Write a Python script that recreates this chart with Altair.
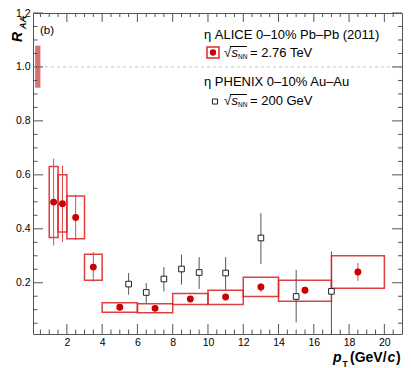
import altair as alt
import pandas as pd

# ---------------- data ----------------
alice_x = [1.25, 1.75, 2.5, 3.5, 5, 7, 9, 11, 13, 15.5, 18.5]
alice_xlo = [1.0, 1.5, 2, 3, 4, 6, 8, 10, 12, 14, 17]
alice_xhi = [1.5, 2, 3, 4, 6, 8, 10, 12, 14, 17, 20]
alice_y = [0.499, 0.493, 0.442, 0.258, 0.109, 0.105, 0.140, 0.147, 0.184, 0.172, 0.240]
alice_sys_lo = [0.368, 0.388, 0.363, 0.209, 0.091, 0.089, 0.119, 0.119, 0.149, 0.131, 0.180]
alice_sys_hi = [0.631, 0.600, 0.522, 0.306, 0.126, 0.122, 0.160, 0.172, 0.220, 0.209, 0.300]
alice_stat_lo = [0.338, 0.351, 0.359, 0.203, 0.100, 0.097, 0.132, 0.135, 0.166, 0.160, 0.207]
alice_stat_hi = [0.660, 0.634, 0.526, 0.314, 0.118, 0.113, 0.148, 0.159, 0.199, 0.185, 0.273]

phenix_x = [5.5, 6.5, 7.5, 8.5, 9.5, 11, 13, 15, 17]
phenix_y = [0.195, 0.164, 0.214, 0.251, 0.238, 0.236, 0.366, 0.149, 0.168]
phenix_lo = [0.156, 0.125, 0.168, 0.193, 0.177, 0.174, 0.270, 0.053, 0.0]
phenix_hi = [0.236, 0.199, 0.258, 0.304, 0.295, 0.295, 0.458, 0.248, 0.316]

norm_x = [0.2, 0.5]
norm_y = [0.923, 1.079]
unity = [1.0]

x_major = [2, 4, 6, 8, 10, 12, 14, 16, 18, 20]
x_minor = [0.5, 1, 1.5, 2.5, 3, 3.5, 4.5, 5, 5.5, 6.5, 7, 7.5, 8.5, 9, 9.5,
           10.5, 11, 11.5, 12.5, 13, 13.5, 14.5, 15, 15.5, 16.5, 17, 17.5,
           18.5, 19, 19.5, 20.5]
y_major = [0.2, 0.4, 0.6, 0.8, 1.0, 1.2]
y_minor = [0.05, 0.1, 0.15, 0.25, 0.3, 0.35, 0.45, 0.5, 0.55, 0.65, 0.7, 0.75,
           0.85, 0.9, 0.95, 1.05, 1.1, 1.15]

alice = pd.DataFrame({"x": alice_x, "xlo": alice_xlo, "xhi": alice_xhi, "y": alice_y,
                      "slo": alice_sys_lo, "shi": alice_sys_hi,
                      "elo": alice_stat_lo, "ehi": alice_stat_hi})
phenix = pd.DataFrame({"x": phenix_x, "y": phenix_y, "lo": phenix_lo, "hi": phenix_hi})
norm = pd.DataFrame({"x0": [norm_x[0]], "x1": [norm_x[1]], "y0": [norm_y[0]], "y1": [norm_y[1]]})
unity_df = pd.DataFrame({"y": unity})

FONT = "Liberation Sans"
RED = "#cc0000"
BOXRED = "#dd2a2a"
TICK = "#555555"
W, H = 369, 321
xs = alt.Scale(domain=[0.08, 21], nice=False, zero=False)
ys = alt.Scale(domain=[0.01, 1.2], nice=False, zero=False)

OX, OY = 33, 13  # plot origin on page

x_axis = alt.Axis(orient="bottom", values=x_major, tickSize=0, tickOpacity=0, domain=False, grid=False,
                  title=None, labelFont=FONT, labelFontSize=10.5, labelColor="black",
                  labelPadding=3, labelFlush=False, labelOverlap=False)
y_axis = alt.Axis(orient="left", values=y_major, tickSize=0, tickOpacity=0, domain=False, grid=False,
                  title=None, labelFont=FONT, labelFontSize=10.5, labelColor="black",
                  labelPadding=3, labelFlush=False, labelOverlap=False, format=".1f")

# normalisation box
norm_layer = alt.Chart(norm).mark_rect(fill="#d46a6a", opacity=0.95).encode(
    x=alt.X("x0:Q", scale=xs, axis=x_axis), x2="x1:Q",
    y=alt.Y("y0:Q", scale=ys, axis=y_axis), y2="y1:Q")

unity_layer = alt.Chart(unity_df).mark_rule(color="#c8c8c8", strokeDash=[3, 3], strokeWidth=1).encode(
    y=alt.Y("y:Q", scale=ys, axis=None))


# inward ticks on all four sides
def xticks(vals, length, top):
    y0, y1 = (0, length) if top else (H, H - length)
    return alt.Chart(pd.DataFrame({"v": vals})).mark_rule(color=TICK, strokeWidth=1).encode(
        x=alt.X("v:Q", scale=xs, axis=None), y=alt.value(y0), y2=alt.value(y1))


def yticks(vals, length, right):
    x0, x1 = (W, W - length) if right else (0, length)
    return alt.Chart(pd.DataFrame({"v": vals})).mark_rule(color=TICK, strokeWidth=1).encode(
        y=alt.Y("v:Q", scale=ys, axis=None), x=alt.value(x0), x2=alt.value(x1))


tick_layers = [
    xticks(x_major, 10, False), xticks(x_minor, 4.5, False),
    xticks(x_major, 9, True), xticks(x_minor, 4, True),
    yticks(y_major, 10, False), yticks(y_minor, 4.5, False),
    yticks(y_major, 10, True), yticks(y_minor, 4, True),
]

box_layer = alt.Chart(alice).mark_rect(fillOpacity=0, stroke=BOXRED, strokeWidth=1.5, strokeOpacity=0.9).encode(
    x=alt.X("xlo:Q", scale=xs, axis=None), x2="xhi:Q",
    y=alt.Y("slo:Q", scale=ys, axis=None), y2="shi:Q")

alice_err = alt.Chart(alice).mark_rule(color="#e04848", strokeWidth=1).encode(
    x=alt.X("x:Q", scale=xs, axis=None),
    y=alt.Y("elo:Q", scale=ys, axis=None), y2="ehi:Q")

phenix_err = alt.Chart(phenix).mark_rule(color="#555555", strokeWidth=1, clip=True).encode(
    x=alt.X("x:Q", scale=xs, axis=None),
    y=alt.Y("lo:Q", scale=ys, axis=None), y2="hi:Q")

phenix_pts = alt.Chart(phenix).mark_point(shape="square", filled=False, fill="white", fillOpacity=1,
                                          stroke="#222222", strokeWidth=1, size=32, opacity=1).encode(
    x=alt.X("x:Q", scale=xs, axis=None),
    y=alt.Y("y:Q", scale=ys, axis=None))

alice_pts = alt.Chart(alice).mark_circle(color=RED, size=48, opacity=1).encode(
    x=alt.X("x:Q", scale=xs, axis=None),
    y=alt.Y("y:Q", scale=ys, axis=None))


def txt(s, px, py, size=13, weight="normal", style="normal", align="left", angle=0):
    return alt.Chart(pd.DataFrame({"label": [s]})).mark_text(
        font=FONT, fontSize=size, fontWeight=weight, fontStyle=style, align=align,
        baseline="alphabetic", angle=angle, color="black").encode(
        x=alt.value(px - OX), y=alt.value(py - OY), text="label:N")


def hline(x0, x1, py, color="black", width=1):
    return alt.Chart(pd.DataFrame({"label": ["l"]})).mark_rule(color=color, strokeWidth=width).encode(
        x=alt.value(x0 - OX), x2=alt.value(x1 - OX), y=alt.value(py - OY))


texts = [
    txt("(b)", 40, 34, size=11.5),
    txt("R", 22, 42, size=14, weight="bold", style="italic", angle=270),
    txt("AA", 26, 29, size=9, weight="bold", style="italic", angle=270),
    txt("\u03b7 ALICE 0\u201310% Pb\u2013Pb (2011)", 204, 39, size=13),
    txt("\u221a", 224, 57, size=13),
    txt("s", 231.5, 57, size=13, style="italic"),
    txt("NN", 238, 59, size=6.5),
    txt("= 2.76 TeV", 250, 57, size=13),
    txt("\u03b7 PHENIX 0\u201310% Au\u2013Au", 204, 86, size=13),
    txt("\u221a", 224, 105, size=13),
    txt("s", 231.5, 105, size=13, style="italic"),
    txt("NN", 238, 107, size=6.5),
    txt("= 200 GeV", 250, 105, size=13),
    hline(230, 247, 46.5),
    hline(230, 247, 94.5),
    txt("p", 333, 362, size=14, weight="bold", style="italic"),
    txt("T", 342.5, 367, size=8.5, weight="bold"),
    txt("(GeV/", 350, 362, size=14, weight="bold"),
    txt("c", 387.5, 362, size=14, weight="bold", style="italic"),
    txt(")", 396, 362, size=14, weight="bold"),
]

legend_box = alt.Chart(pd.DataFrame({"label": ["b"]})).mark_rect(
    fillOpacity=0, stroke=BOXRED, strokeWidth=1.5).encode(
    x=alt.value(207 - OX), x2=alt.value(219 - OX), y=alt.value(47 - OY), y2=alt.value(58 - OY))
legend_dot = alt.Chart(pd.DataFrame({"label": ["d"]})).mark_circle(color=RED, size=40, opacity=1).encode(
    x=alt.value(213 - OX), y=alt.value(52.5 - OY))
legend_sq = alt.Chart(pd.DataFrame({"label": ["s"]})).mark_point(
    shape="square", filled=False, fill="white", fillOpacity=1, stroke="#222222", strokeWidth=1,
    size=26, opacity=1).encode(x=alt.value(215 - OX), y=alt.value(101.5 - OY))

chart = alt.layer(
    norm_layer, unity_layer, *tick_layers, box_layer, alice_err, phenix_err, phenix_pts, alice_pts,
    legend_box, legend_dot, legend_sq, *texts
).resolve_axis(x="independent", y="independent").properties(
    width=W, height=H,
    autosize=alt.AutoSizeParams(type="none"),
    padding={"left": 25, "top": 5, "right": 1, "bottom": 34},
    background="white",
).configure_view(stroke="#555555", strokeWidth=1)

chart.save("out.html", embed_options={"renderer": "svg", "actions": False})
